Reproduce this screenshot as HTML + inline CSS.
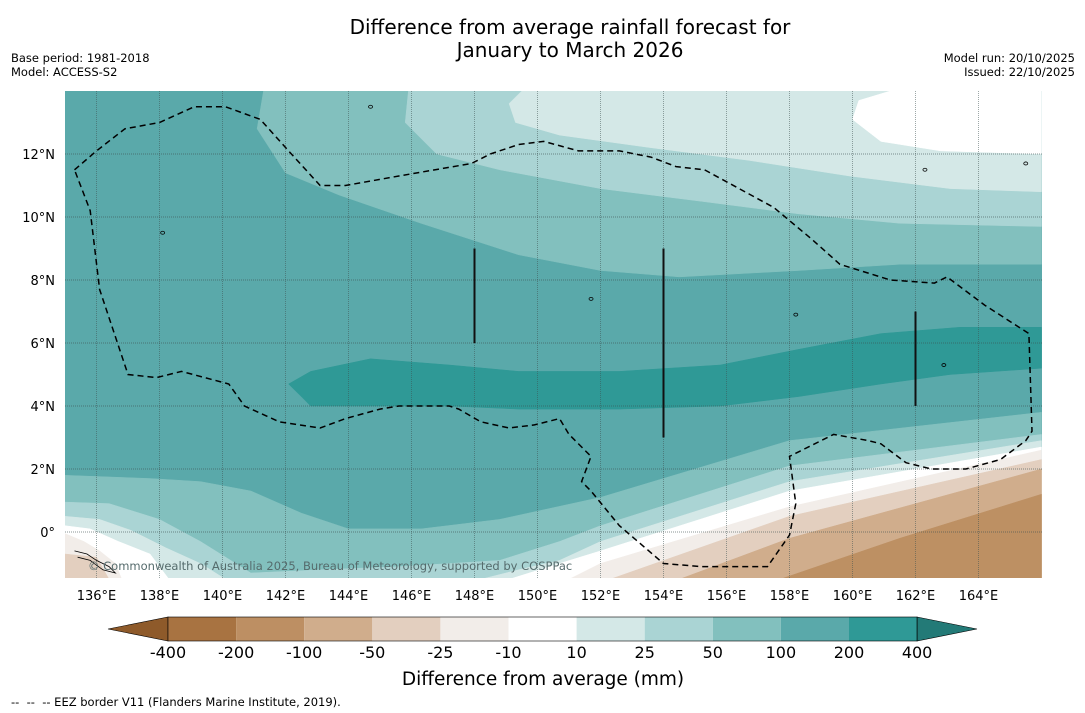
<!DOCTYPE html>
<html><head><meta charset="utf-8"><style>
html,body{margin:0;padding:0;background:#fff;}
svg{display:block;font-family:"DejaVu Sans","Liberation Sans",sans-serif;}
</style></head><body>
<svg id="chart" width="1085" height="713" viewBox="0 0 1085 713">
<text x="570" y="34" text-anchor="middle" font-size="20" fill="#000">Difference from average rainfall forecast for</text>
<text x="570" y="57" text-anchor="middle" font-size="20" fill="#000">January to March 2026</text>
<text x="11" y="62" font-size="11.5">Base period: 1981-2018</text>
<text x="11" y="76" font-size="11.5">Model: ACCESS-S2</text>
<text x="1075" y="62" font-size="11.5" text-anchor="end">Model run: 20/10/2025</text>
<text x="1075" y="76" font-size="11.5" text-anchor="end">Issued: 22/10/2025</text>
<clipPath id="mapclip"><rect x="65" y="91" width="977" height="487"/></clipPath>
<g id="map" clip-path="url(#mapclip)">
<rect x="65" y="91" width="977" height="487" fill="#5aa9aa"/>
</g>
<g id="axes"></g>
<g id="cbar"></g>
<text x="543" y="685" text-anchor="middle" font-size="18.5">Difference from average (mm)</text>
<text x="11" y="706" font-size="11.5" style="white-space:pre">--  --  -- EEZ border V11 (Flanders Marine Institute, 2019).</text>
</svg>
<script>
// Contour bands as [lon,lat,...] pairs
const band50Top = [141.3,14, 141.1,12.8, 142.0,11.4, 143.7,10.7, 146.3,9.8, 149.4,8.8, 152.0,8.3, 154.5,8.1, 158.3,8.3, 161.5,8.5, 166,8.5, 166,14];
const band25Top = [145.9,14, 145.8,13.0, 146.8,12.0, 148.8,11.5, 152.0,10.9, 155.2,10.5, 158.3,10.1, 161.5,9.8, 166,9.7, 166,14];
const band10Top = [149.5,14, 149.1,13.6, 149.3,13.0, 150.7,12.6, 153.6,12.2, 156.7,11.8, 159.9,11.3, 163.1,10.9, 166,10.8, 166,14];
const whiteTop = [161.2,14, 160.2,13.7, 160.0,13.1, 160.9,12.4, 162.8,12.1, 166,12.0, 166,14];
const coreBand = [142.1,4.7, 142.8,5.1, 144.7,5.5, 147.2,5.3, 149.4,5.1, 152.6,5.1, 155.8,5.3, 158.3,5.8, 160.9,6.3, 163.4,6.5, 166,6.5, 166,5.2, 163.1,5.0, 160.9,4.7, 158.3,4.3, 155.8,4.0, 152.6,3.9, 149.4,3.9, 147.2,4.0, 145.0,4.0, 142.8,4.0, 142.5,4.3];
const band50Bot = [135,1.8, 137.7,1.7, 139.3,1.6, 140.9,1.3, 142.5,0.6, 144.0,0.1, 146.3,0.1, 148.8,0.4, 152.0,1.1, 158.0,2.9, 166,3.8, 166,-1.5, 135,-1.5];
const band25Bot = [135,0.95, 136.4,0.9, 138.0,0.4, 139.3,-0.3, 140.9,-1.3, 143.1,-1.2, 145.6,-1.1, 148.8,-0.9, 150.7,-0.3, 152.0,0.2, 158.0,2.1, 166,3.1, 166,-1.5, 135,-1.5];
const band10BotL = [135,0.5, 136.1,0.4, 137.1,0.05, 138.2,-0.5, 139.3,-1.0, 140.1,-1.5, 135,-1.5];
const band10BotR = [148.2,-1.5, 149.4,-1.2, 150.7,-0.9, 152.0,-0.3, 158.0,1.6, 166,2.9, 166,-1.5];
const bandWhiteL = [135,0.2, 135.8,0.1, 136.7,-0.3, 137.7,-0.7, 138.3,-1.5, 135,-1.5];
const bandWhiteR = [149.1,-1.5, 150.7,-1.0, 152.0,-0.6, 158.0,1.3, 166,2.7, 166,-1.5];
const bandM10L = [135,-0.05, 135.6,-0.3, 136.1,-0.6, 136.6,-1.0, 136.8,-1.5, 135,-1.5];
const bandM10R = [151.0,-1.5, 152.0,-1.0, 158.0,0.8, 166,2.6, 166,-1.5];
const bandM25L = [135,-0.7, 136.0,-0.8, 136.4,-1.5, 135,-1.5];
const bandM25R = [152.3,-1.5, 158.0,0.5, 166,2.3, 166,-1.5];
const bandM50 = [154.5,-1.5, 158.0,-0.2, 166,2.0, 166,-1.5];
const bandM100 = [157.7,-1.5, 161.5,-0.2, 166,1.2, 166,-1.5];
const eezBorder = [135.3,11.5, 136.0,12.1, 136.9,12.8, 138.0,13.0, 139.1,13.5, 140.1,13.5, 141.2,13.1, 142.1,12.1, 143.1,11.0, 143.9,11.0, 145.6,11.3, 147.9,11.7, 148.5,12.0, 149.4,12.3, 150.2,12.4, 151.3,12.1, 152.6,12.1, 153.6,11.9, 154.4,11.6, 155.3,11.5, 156.4,10.9, 157.5,10.3, 158.7,9.3, 159.6,8.5, 161.2,8.0, 162.6,7.9, 163.0,8.1, 164.2,7.2, 165.6,6.3, 165.7,3.2, 165.5,2.9, 164.7,2.3, 163.6,2.0, 162.5,2.0, 161.7,2.2, 160.9,2.8, 160.5,2.9, 159.4,3.1, 158.0,2.4, 158.2,0.9, 158.0,-0.1, 157.3,-1.1, 155.2,-1.1, 154.0,-1.0, 152.6,0.2, 151.7,1.3, 151.4,1.6, 151.7,2.4, 151.0,3.1, 150.7,3.6, 149.9,3.4, 149.1,3.3, 148.2,3.5, 147.5,3.9, 147.2,4.0, 145.6,4.0, 145.0,3.9, 143.9,3.6, 143.1,3.3, 141.8,3.5, 140.7,4.0, 140.2,4.7, 138.7,5.1, 137.9,4.9, 137.0,5.0, 136.1,7.7, 135.8,10.2, 135.3,11.5];
const lineLons = [148, 154, 162];
const lineLatTop = [9, 9, 7];
const lineLatBot = [6, 3, 4];
const islandLons = [144.7, 138.1, 151.7, 158.2, 162.9, 162.3, 165.5];
const islandLats = [13.5, 9.5, 7.4, 6.9, 5.3, 11.5, 11.7];
const lonTicks = [136,138,140,142,144,146,148,150,152,154,156,158,160,162,164];
const latTicks = [12,10,8,6,4,2,0];
const cbarLevels = ["-400","-200","-100","-50","-25","-10","10","25","50","100","200","400"];
const cbarColors = ["#a87341","#bd8f63","#d0ad8c","#e3cfbf","#f2ede9","#ffffff","#d4e8e7","#aad4d4","#82c0be","#5aa9aa","#2f9996"];

const NS = "http://www.w3.org/2000/svg";
const X = lon => 65 + (lon - 135) * 31.5;
const Y = lat => 91 + (14 - lat) * 31.5;
const map = document.getElementById('map');
const axes = document.getElementById('axes');
const cbar = document.getElementById('cbar');
function pts(a){ let s=[]; for(let i=0;i<a.length;i+=2) s.push(X(a[i]).toFixed(1)+','+Y(a[i+1]).toFixed(1)); return s.join(' '); }
function addPoly(arr, fill, name){
  const p = document.createElementNS(NS,'polygon');
  p.setAttribute('points', pts(arr)); p.setAttribute('fill', fill);
  p.setAttribute('stroke', fill); p.setAttribute('stroke-width','0.5');
  
  
  map.appendChild(p);
}
addPoly(band50Top,'#82c0be','band-50-100-north');
addPoly(band25Top,'#aad4d4','band-25-50-north');
addPoly(band10Top,'#d4e8e7','band-10-25-north');
addPoly(whiteTop,'#ffffff','band-neutral-north');
addPoly(coreBand,'#2f9996','band-200-400');
addPoly(band50Bot,'#82c0be','band-50-100-south');
addPoly(band25Bot,'#aad4d4','band-25-50-south');
addPoly(band10BotL,'#d4e8e7','band-10-25-southwest');
addPoly(band10BotR,'#d4e8e7','band-10-25-southeast');
addPoly(bandWhiteL,'#ffffff','band-neutral-southwest');
addPoly(bandWhiteR,'#ffffff','band-neutral-southeast');
addPoly(bandM10L,'#f2ede9','band-minus10-southwest');
addPoly(bandM10R,'#f2ede9','band-minus10-southeast');
addPoly(bandM25L,'#e3cfbf','band-minus25-southwest');
addPoly(bandM25R,'#e3cfbf','band-minus25-southeast');
addPoly(bandM50,'#d0ad8c','band-minus50');
addPoly(bandM100,'#bd9063','band-minus100');

lonTicks.forEach(l=>{
  const g=document.createElementNS(NS,'line');
  g.setAttribute('x1',X(l)); g.setAttribute('x2',X(l)); g.setAttribute('y1',91); g.setAttribute('y2',578);
  g.setAttribute('stroke','#3c5050'); g.setAttribute('stroke-opacity','0.5'); g.setAttribute('stroke-dasharray','1,1');
  
  
  map.appendChild(g);
});
latTicks.forEach(l=>{
  const g=document.createElementNS(NS,'line');
  g.setAttribute('x1',65); g.setAttribute('x2',1042); g.setAttribute('y1',Y(l)); g.setAttribute('y2',Y(l));
  g.setAttribute('stroke','#3c5050'); g.setAttribute('stroke-opacity','0.6'); g.setAttribute('stroke-dasharray','1,1');
  
  
  map.appendChild(g);
});
const ez=document.createElementNS(NS,'polyline');
ez.setAttribute('points',pts(eezBorder)); ez.setAttribute('fill','none'); ez.setAttribute('stroke','#000');
ez.setAttribute('stroke-width','1.5'); ez.setAttribute('stroke-dasharray','6,4');


map.appendChild(ez);
lineLons.forEach((l,i)=>{
  const v=document.createElementNS(NS,'line');
  v.setAttribute('x1',X(l)); v.setAttribute('x2',X(l)); v.setAttribute('y1',Y(lineLatTop[i])); v.setAttribute('y2',Y(lineLatBot[i]));
  v.setAttribute('stroke','#111'); v.setAttribute('stroke-width','2');
  
  
  map.appendChild(v);
});
islandLons.forEach((lon,i)=>{
  const e=document.createElementNS(NS,'ellipse');
  e.setAttribute('cx',X(lon)); e.setAttribute('cy',Y(islandLats[i])); e.setAttribute('rx',2); e.setAttribute('ry',1.5);
  e.setAttribute('fill','none'); e.setAttribute('stroke','#000'); e.setAttribute('stroke-width','0.8');
  
  
  map.appendChild(e);
});
const sol=document.createElementNS(NS,'polyline');
sol.setAttribute('points',pts([135.3,-0.6,135.7,-0.7,136.0,-0.9,136.4,-1.1,136.6,-1.3,136.2,-1.2,135.8,-0.9,135.4,-0.8]));
sol.setAttribute('fill','none'); sol.setAttribute('stroke','#000'); sol.setAttribute('stroke-width','0.8');


map.appendChild(sol);
const cp=document.createElementNS(NS,'text');
cp.setAttribute('x',88); cp.setAttribute('y',570); cp.setAttribute('font-size','11.5'); cp.setAttribute('fill','#556b6c');
cp.textContent='© Commonwealth of Australia 2025, Bureau of Meteorology, supported by COSPPac';


map.appendChild(cp);

lonTicks.forEach(l=>{
  const t=document.createElementNS(NS,'text');
  t.setAttribute('x',X(l)); t.setAttribute('y',600); t.setAttribute('text-anchor','middle'); t.setAttribute('font-size','13');
  t.textContent=l+'°E';
  
  
  axes.appendChild(t);
});
latTicks.forEach(l=>{
  const t=document.createElementNS(NS,'text');
  t.setAttribute('x',55); t.setAttribute('y',Y(l)+5); t.setAttribute('text-anchor','end'); t.setAttribute('font-size','13');
  t.textContent = l===0 ? '0°' : l+'°N';
  
  
  axes.appendChild(t);
});

const cx0=168, cw=68.1, cy=617, ch=24;
const lt=document.createElementNS(NS,'polygon');
lt.setAttribute('points',`108,${cy+ch/2} ${cx0},${cy} ${cx0},${cy+ch}`); lt.setAttribute('fill','#8e5a2a'); lt.setAttribute('stroke','#000'); lt.setAttribute('stroke-width','0.6');


cbar.appendChild(lt);
cbarColors.forEach((c,i)=>{
  const r=document.createElementNS(NS,'rect');
  r.setAttribute('x',cx0+i*cw); r.setAttribute('y',cy); r.setAttribute('width',cw); r.setAttribute('height',ch); r.setAttribute('fill',c);
  
  
  cbar.appendChild(r);
});
const xe=cx0+cbarColors.length*cw;
const rt=document.createElementNS(NS,'polygon');
rt.setAttribute('points',`${xe},${cy} 977,${cy+ch/2} ${xe},${cy+ch}`); rt.setAttribute('fill','#237a77'); rt.setAttribute('stroke','#000'); rt.setAttribute('stroke-width','0.6');


cbar.appendChild(rt);
const ol=document.createElementNS(NS,'rect');
ol.setAttribute('x',cx0); ol.setAttribute('y',cy); ol.setAttribute('width',xe-cx0); ol.setAttribute('height',ch); ol.setAttribute('fill','none'); ol.setAttribute('stroke','#000'); ol.setAttribute('stroke-width','0.6');


cbar.appendChild(ol);
cbarLevels.forEach((v,i)=>{
  const t=document.createElementNS(NS,'text');
  t.setAttribute('x',cx0+i*cw); t.setAttribute('y',658); t.setAttribute('text-anchor','middle'); t.setAttribute('font-size','16');
  t.textContent=v;
  
  
  cbar.appendChild(t);
});
</script>
</body></html>
